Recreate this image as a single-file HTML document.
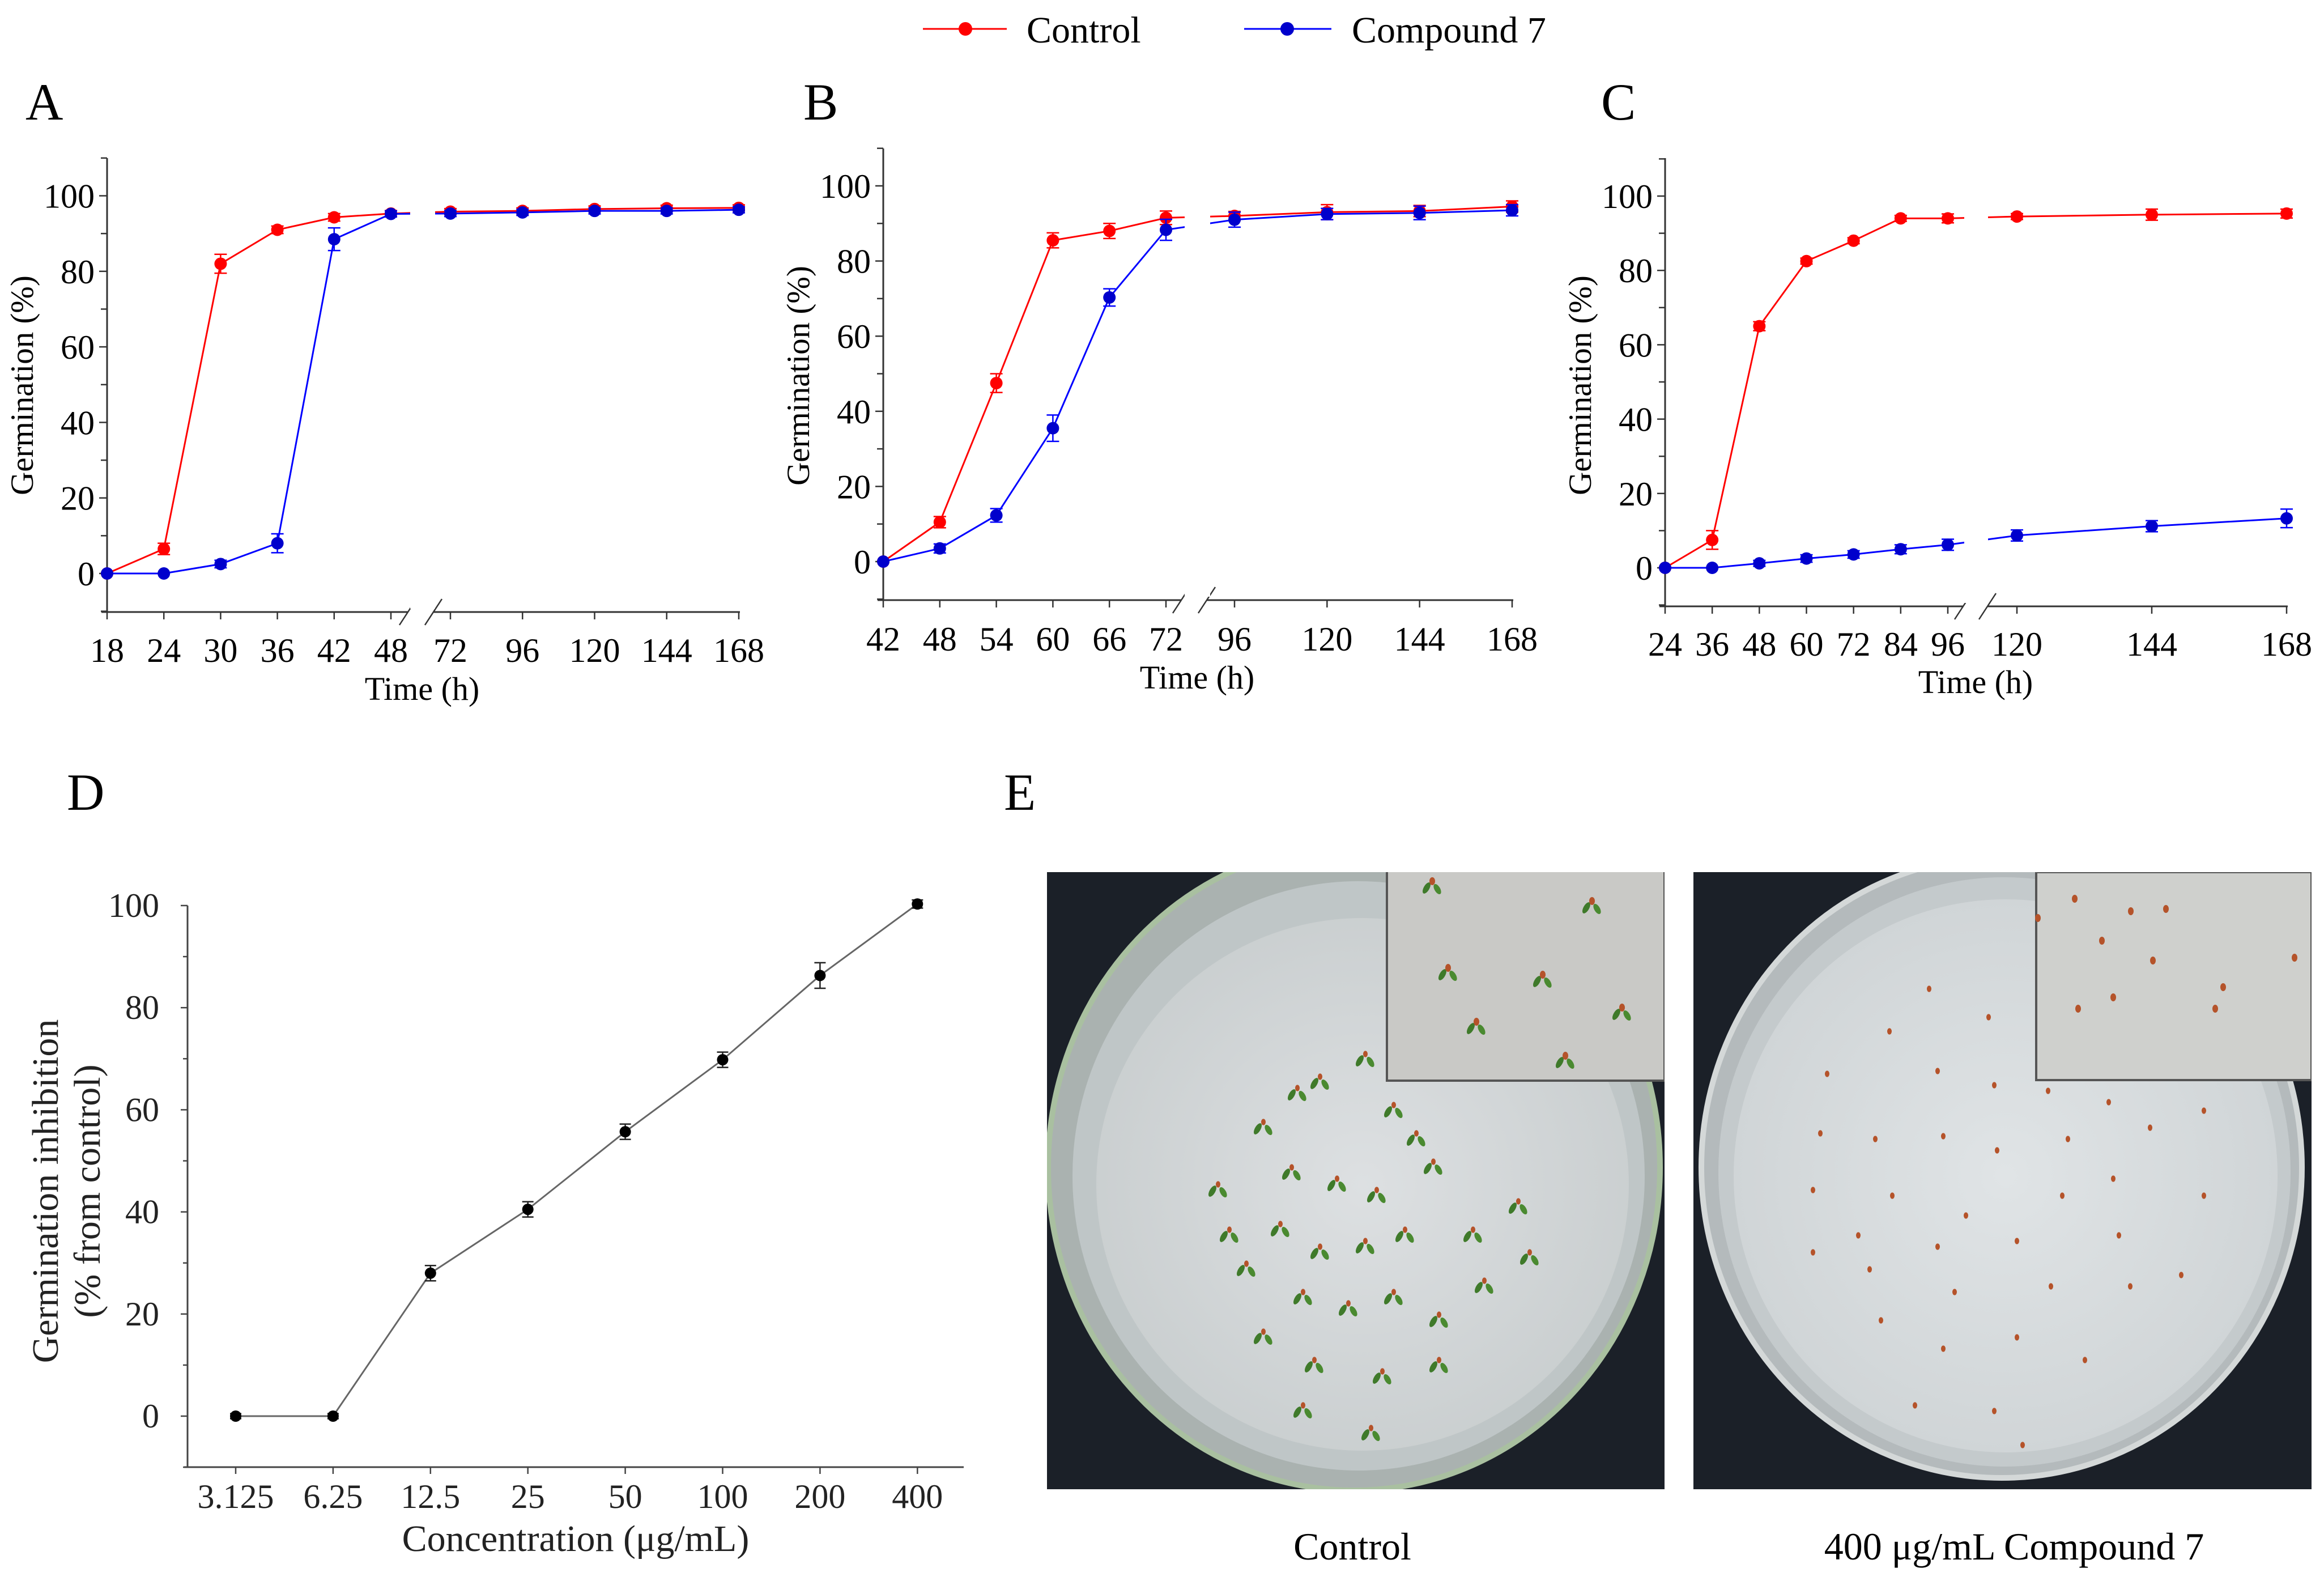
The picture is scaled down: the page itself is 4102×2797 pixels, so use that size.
<!DOCTYPE html>
<html><head><meta charset="utf-8">
<style>
html,body{margin:0;padding:0;background:#fff;}
svg{display:block;font-family:"Liberation Serif",serif;}
</style></head>
<body>
<svg id="fig" width="4102" height="2797" viewBox="0 0 4102 2797" xmlns="http://www.w3.org/2000/svg">
  <rect x="0" y="0" width="4102" height="2797" fill="#fff"/>
  <g>
    <g>
      <line x1="1629" y1="51" x2="1777" y2="51" stroke="#ff0000" stroke-width="3"/>
      <circle cx="1704" cy="51" r="12" fill="#ff0000"/>
      <text x="1812" y="75" font-size="66" fill="#000">Control</text>
    </g>
    <g>
      <line x1="2196" y1="51" x2="2350" y2="51" stroke="#0000ff" stroke-width="3"/>
      <circle cx="2272" cy="51" r="12" fill="#0000cc"/>
      <text x="2386" y="75" font-size="66" fill="#000">Compound 7</text>
    </g>
  </g>
  <text x="45" y="211" font-size="92">A</text>
  <text x="1418" y="211" font-size="92">B</text>
  <text x="2826" y="211" font-size="92">C</text>
  <text x="118" y="1429" font-size="92">D</text>
  <text x="1772" y="1429" font-size="92">E</text>
  <g id="charts"></g>

  <defs>
    <clipPath id="clip1"><rect x="1848" y="1539" width="1090" height="1089"/></clipPath>
    <clipPath id="clip2"><rect x="2989" y="1539" width="1091" height="1089"/></clipPath>
    <radialGradient id="paper1" cx="0.5" cy="0.5" r="0.6"><stop offset="0" stop-color="#dde0e2"/><stop offset="1" stop-color="#c7cccd"/></radialGradient>
    <radialGradient id="paper2" cx="0.5" cy="0.5" r="0.6"><stop offset="0" stop-color="#e0e4e6"/><stop offset="1" stop-color="#cdd2d4"/></radialGradient>
  </defs>
  <g clip-path="url(#clip1)">
    <rect x="1848" y="1539" width="1090" height="1089" fill="#1b2028"/>
    <ellipse cx="2390" cy="2060" rx="540" ry="570" fill="#aab2b0" stroke="#a9c0a0" stroke-width="10"/>
    <ellipse cx="2398" cy="2075" rx="505" ry="520" fill="#bfc6c7"/>
    <ellipse cx="2405" cy="2090" rx="470" ry="470" fill="url(#paper1)"/>
    <g id="seeds1"></g>
    <g>
      <rect x="2448" y="1537" width="490" height="370" fill="#c9c9c6" stroke="#555" stroke-width="4"/>
      <g id="inset1"></g>
    </g>
  </g>
  <g clip-path="url(#clip2)">
    <rect x="2989" y="1539" width="1091" height="1089" fill="#1b2028"/>
    <ellipse cx="3533" cy="2060" rx="530" ry="548" fill="#b4babc" stroke="#d4d8d8" stroke-width="10"/>
    <ellipse cx="3538" cy="2068" rx="505" ry="520" fill="#c4cacc"/>
    <ellipse cx="3540" cy="2075" rx="480" ry="488" fill="url(#paper2)"/>
    <g id="seeds2"></g>
    <g>
      <rect x="3594" y="1539" width="486" height="367" fill="#cfd0cd" stroke="#555" stroke-width="4"/>
      <g id="inset2"></g>
    </g>
  </g>
  <text x="2387" y="2752" font-size="68" text-anchor="middle">Control</text>
  <text x="3555" y="2752" font-size="68" text-anchor="middle">400 μg/mL Compound 7</text>
</svg>
<script>
const timesA = [18,24,30,36,42,48,72,96,120,144,168];
const controlA = [0,6.5,82,91,94.3,95.3,95.8,96,96.5,96.7,96.8];
const controlErrA = [0,1.5,2.5,1,1,0.8,0.8,0.8,0.8,0.8,0.8];
const compoundA = [0,0,2.5,8,88.5,95.2,95.3,95.6,96,96,96.3];
const compoundErrA = [0,0,1,2.5,3,0.8,0.8,0.8,0.8,0.8,0.8];
const tickLabelsA = ["18","24","30","36","42","48","72","96","120","144","168"];

const timesB = [42,48,54,60,66,72,96,120,144,168];
const controlB = [0,10.5,47.5,85.5,88,91.5,92,93,93.3,94.5];
const controlErrB = [0,1.5,2.5,2,2,1.8,1.2,2,1.5,1.5];
const compoundB = [0,3.5,12.3,35.5,70.3,88.3,91,92.5,92.8,93.5];
const compoundErrB = [0,1.2,1.8,3.5,2.3,2.8,2,1.5,1.8,1.5];
const tickLabelsB = ["42","48","54","60","66","72","96","120","144","168"];

const timesC = [24,36,48,60,72,84,96,120,144,168];
const controlC = [0,7.5,65,82.5,88,94,94,94.5,95,95.3];
const controlErrC = [0,2.5,1.2,0.8,0.8,0.8,1.2,0.8,1.5,1.2];
const compoundC = [0,0,1.2,2.5,3.6,5,6.2,8.7,11.2,13.3];
const compoundErrC = [0,0,0.8,1,1,1.2,1.5,1.5,1.5,2.5];
const tickLabelsC = ["24","36","48","60","72","84","96","120","144","168"];

const yTicksGerm = [0,20,40,60,80,100];

const concLabels = ["3.125","6.25","12.5","25","50","100","200","400"];
const inhibition = [0,0,28,40.5,55.7,69.8,86.3,100.3];
const inhibitionErr = [0.5,0.5,1.5,1.5,1.5,1.5,2.5,0.8];
const yTicksD = [0,20,40,60,80,100];

const NS = "http://www.w3.org/2000/svg";
const root = document.getElementById("charts");
function mk(tag, attrs, parent){
  const e = document.createElementNS(NS, tag);
  for (const k in attrs) e.setAttribute(k, attrs[k]);
  (parent||root).appendChild(e);
  return e;
}

function timeChart(cfg){
  const g = mk("g", {});
  
  
  const pre = cfg.pre, post = cfg.post;
  const xs = t => t <= pre.h1 ? pre.x0 + (t-pre.h0)*(pre.x1-pre.x0)/(pre.h1-pre.h0)
                              : post.x0 + (t-post.h0)*(post.x1-post.x0)/(post.h1-post.h0);
  const ys = v => cfg.y0 - v*cfg.yk;
  const ax = cfg.axisX, bot = cfg.bottom, top = cfg.top;
  const yAxis = mk("line", {x1:ax, y1:top, x2:ax, y2:bot, stroke:"#333", "stroke-width":3}, g);
  
  
  for (let v=-10; v<=110; v+=10){
    const major = v%20===0;
    mk("line", {x1:ax-(major?14:11), y1:ys(v), x2:ax, y2:ys(v), stroke:"#333", "stroke-width":2.5}, g);
  }
  yTicksGerm.forEach(v=>{
    const t = mk("text", {x:ax-22, y:ys(v)+21, "font-size":60, "text-anchor":"end"}, g);
    t.textContent = v;
    
    
  });
  const xAxis1 = mk("line", {x1:ax-10, y1:bot, x2:cfg.brk[0], y2:bot, stroke:"#333", "stroke-width":3}, g);
  
  
  const xAxis2 = mk("line", {x1:cfg.brk[1], y1:bot, x2:post.x1+2, y2:bot, stroke:"#333", "stroke-width":3}, g);
  
  
  [cfg.brk[0], cfg.brk[1]].forEach(bx=>{
    const s = mk("line", {x1:bx-15, y1:bot+23, x2:bx+15, y2:bot-23, stroke:"#333", "stroke-width":2.5}, g);
    
    
  });
  cfg.times.forEach((t,i)=>{
    mk("line", {x1:xs(t), y1:bot, x2:xs(t), y2:bot+13, stroke:"#333", "stroke-width":2.5}, g);
    const tl = mk("text", {x:xs(t), y:cfg.tickY, "font-size":60, "text-anchor":"middle"}, g);
    tl.textContent = cfg.labels[i];
    
    
  });
  const xt = mk("text", {x:cfg.xTitle[0], y:cfg.xTitle[1], "font-size":58, "text-anchor":"middle"}, g);
  xt.textContent = "Time (h)";
  
  
  const yt = mk("text", {x:0, y:0, "font-size":57, "text-anchor":"middle", transform:`translate(${cfg.yTitle[0]},${cfg.yTitle[1]}) rotate(-90)`}, g);
  yt.textContent = "Germination (%)";
  
  

  const series = [
    {vals:cfg.control, err:cfg.controlErr, color:"#ff0000", fill:"#ff0000", name:"control"},
    {vals:cfg.compound, err:cfg.compoundErr, color:"#0000ff", fill:"#0000cc", name:"compound-7"}
  ];
  series.forEach(s=>{
    const sg = mk("g", {}, g);
    
    
    const pts = cfg.times.map((t,i)=>xs(t)+","+ys(s.vals[i])).join(" ");
    const pl = mk("polyline", {points:pts, fill:"none", stroke:s.color, "stroke-width":3}, sg);
    
    
    mk("rect", {x:cfg.gap[0], y:top, width:cfg.gap[1]-cfg.gap[0], height:bot-top-6, fill:"#fff"}, sg);
    cfg.times.forEach((t,i)=>{
      const x = xs(t), y = ys(s.vals[i]), e = s.err[i]*cfg.yk;
      if (e > 0){
        mk("path", {d:`M${x},${y-e}V${y+e}M${x-11},${y-e}H${x+11}M${x-11},${y+e}H${x+11}`, stroke:s.color, "stroke-width":2.5, fill:"none"}, sg);
      }
      const c = mk("circle", {cx:x, cy:y, r:11, fill:s.fill}, sg);
      
      
    });
  });
}

timeChart({name:"chart-a", times:timesA, labels:tickLabelsA, control:controlA, controlErr:controlErrA, compound:compoundA, compoundErr:compoundErrA,
  pre:{h0:18,h1:48,x0:189,x1:690}, post:{h0:72,h1:168,x0:795,x1:1304},
  y0:1012, yk:6.665, axisX:189, top:279, bottom:1080, brk:[720,765], gap:[724,768],
  tickY:1168, xTitle:[745,1235], yTitle:[58,680]});
timeChart({name:"chart-b", times:timesB, labels:tickLabelsB, control:controlB, controlErr:controlErrB, compound:compoundB, compoundErr:compoundErrB,
  pre:{h0:42,h1:72,x0:1559,x1:2058}, post:{h0:96,h1:168,x0:2179,x1:2669},
  y0:991, yk:6.63, axisX:1559, top:262, bottom:1059, brk:[2085,2130], gap:[2091,2136],
  tickY:1148, xTitle:[2113,1215], yTitle:[1428,663]});
timeChart({name:"chart-c", times:timesC, labels:tickLabelsC, control:controlC, controlErr:controlErrC, compound:compoundC, compoundErr:compoundErrC,
  pre:{h0:24,h1:96,x0:2939,x1:3438}, post:{h0:120,h1:168,x0:3560,x1:4036},
  y0:1002, yk:6.56, axisX:2939, top:279, bottom:1070, brk:[3465,3508], gap:[3467,3509],
  tickY:1157, xTitle:[3487,1223], yTitle:[2808,680]});

(function(){
  const g = mk("g", {});
  
  
  const ax = 331, bot = 2589, top = 1598;
  const x0 = 416, step = 171.9;
  const xs = i => x0 + i*step;
  const ys = v => 2499 - v*9.01;
  const ya = mk("line", {x1:ax, y1:top, x2:ax, y2:bot, stroke:"#444", "stroke-width":3}, g);
  
  
  const xa = mk("line", {x1:ax-6, y1:bot, x2:1701, y2:bot, stroke:"#444", "stroke-width":3}, g);
  
  
  for (let v=-10; v<=100; v+=10){
    mk("line", {x1:ax-(v%20===0?12:8), y1:ys(v), x2:ax, y2:ys(v), stroke:"#444", "stroke-width":2.5}, g);
  }
  yTicksD.forEach(v=>{
    const t = mk("text", {x:281, y:ys(v)+20, "font-size":60, "text-anchor":"end", fill:"#222"}, g);
    t.textContent = v;
    
    
  });
  concLabels.forEach((c,i)=>{
    mk("line", {x1:xs(i), y1:bot, x2:xs(i), y2:bot+12, stroke:"#444", "stroke-width":2.5}, g);
    const t = mk("text", {x:xs(i), y:2661, "font-size":60, "text-anchor":"middle", fill:"#222"}, g);
    t.textContent = c;
    
    
  });
  const xt = mk("text", {x:1016, y:2737, "font-size":66, "text-anchor":"middle", fill:"#222"}, g);
  xt.textContent = "Concentration (μg/mL)";
  
  
  const yt1 = mk("text", {x:0, y:0, "font-size":66, "text-anchor":"middle", fill:"#222", transform:"translate(102,2102) rotate(-90)"}, g);
  yt1.textContent = "Germination inhibition";
  
  
  const yt2 = mk("text", {x:0, y:0, "font-size":66, "text-anchor":"middle", fill:"#222", transform:"translate(176,2102) rotate(-90)"}, g);
  yt2.textContent = "(% from control)";
  
  
  const pts = inhibition.map((v,i)=>xs(i)+","+ys(v)).join(" ");
  const pl = mk("polyline", {points:pts, fill:"none", stroke:"#666", "stroke-width":3}, g);
  
  
  inhibition.forEach((v,i)=>{
    const x = xs(i), y = ys(v), e = inhibitionErr[i]*9.01;
    mk("path", {d:`M${x},${y-e}V${y+e}M${x-10},${y-e}H${x+10}M${x-10},${y+e}H${x+10}`, stroke:"#222", "stroke-width":2.5, fill:"none"}, g);
    const c = mk("circle", {cx:x, cy:y, r:10, fill:"#000"}, g);
    
    
  });
})();

function seeds(parentId, list, sprout){
  const p = document.getElementById(parentId);
  list.forEach(s=>{
    if (sprout){
      mk("ellipse", {cx:s[0]-10, cy:s[1]+12, rx:5, ry:11, fill:"#3f7a2a", transform:`rotate(30 ${s[0]-10} ${s[1]+12})`}, p);
      mk("ellipse", {cx:s[0]+9, cy:s[1]+14, rx:5, ry:10, fill:"#4a8a30", transform:`rotate(-30 ${s[0]+9} ${s[1]+14})`}, p);
    }
    mk("ellipse", {cx:s[0], cy:s[1], rx:s[2]||4, ry:(s[2]||4)*1.4, fill:"#b5532a"}, p);
  });
}
seeds("seeds1", [[2230,1980],[2290,1920],[2330,1900],[2410,1860],[2460,1950],[2500,2000],[2530,2050],[2280,2060],[2360,2080],[2430,2100],[2260,2160],[2330,2200],[2410,2190],[2480,2170],[2150,2090],[2170,2170],[2200,2230],[2300,2280],[2380,2300],[2460,2280],[2540,2320],[2620,2260],[2600,2170],[2680,2120],[2700,2210],[2230,2350],[2320,2400],[2440,2420],[2540,2400],[2300,2480],[2420,2520]], true);
seeds("seeds2", [[3405,1745],[3510,1795],[3335,1820],[3225,1895],[3420,1890],[3520,1915],[3615,1925],[3722,1945],[3213,2000],[3310,2010],[3430,2005],[3525,2030],[3650,2010],[3795,1990],[3890,1960],[3200,2100],[3340,2110],[3470,2145],[3640,2110],[3730,2080],[3890,2110],[3280,2180],[3420,2200],[3560,2190],[3740,2180],[3200,2210],[3300,2240],[3450,2280],[3620,2270],[3760,2270],[3850,2250],[3430,2380],[3560,2360],[3680,2400],[3380,2480],[3520,2490],[3570,2550],[3320,2330]], false);
seeds("inset1", [[2528,1555,5],[2810,1590,5],[2556,1708,5],[2723,1720,5],[2863,1778,5],[2606,1803,5],[2763,1863,5]], true);
seeds("inset2", [[3662,1586,5],[3823,1604,5],[3761,1608,5],[3597,1620,5],[3710,1660,5],[3800,1695,5],[4050,1690,5],[3730,1760,5],[3668,1780,5],[3924,1742,5],[3910,1780,5]], false);
</script>
</body></html>
